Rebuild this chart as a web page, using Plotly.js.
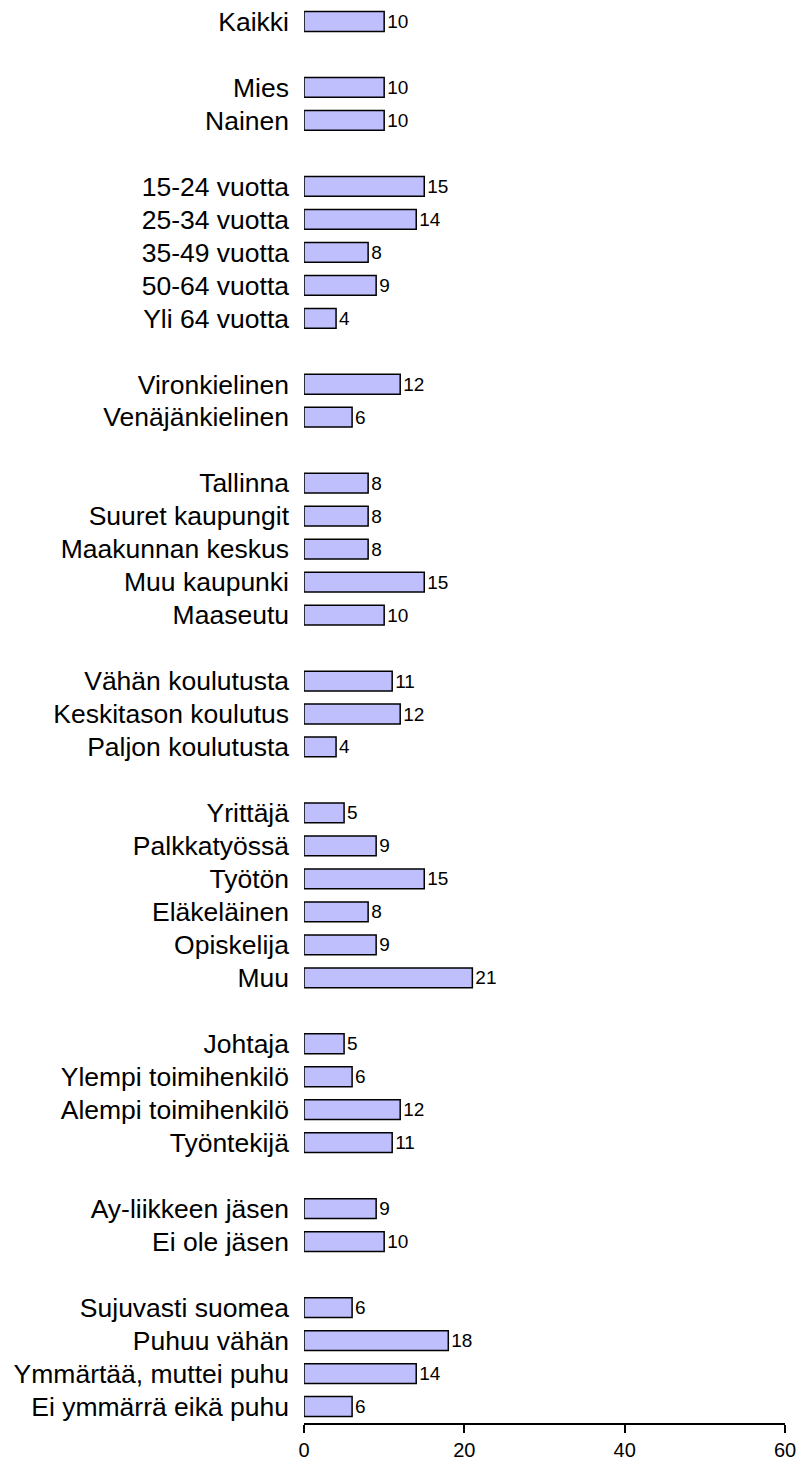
<!DOCTYPE html>
<html>
<head>
<meta charset="utf-8">
<script src="https://cdn.plot.ly/plotly-3.0.1.min.js"></script>
<style>html,body{margin:0;padding:0;background:#fff;}#chart{width:798px;height:1461px;}</style>
</head>
<body>
<div id="chart"></div>
<script>
const categories = [
  "Kaikki",
  "Mies", "Nainen",
  "15-24 vuotta", "25-34 vuotta", "35-49 vuotta", "50-64 vuotta", "Yli 64 vuotta",
  "Vironkielinen", "Venäjänkielinen",
  "Tallinna", "Suuret kaupungit", "Maakunnan keskus", "Muu kaupunki", "Maaseutu",
  "Vähän koulutusta", "Keskitason koulutus", "Paljon koulutusta",
  "Yrittäjä", "Palkkatyössä", "Työtön", "Eläkeläinen", "Opiskelija", "Muu",
  "Johtaja", "Ylempi toimihenkilö", "Alempi toimihenkilö", "Työntekijä",
  "Ay-liikkeen jäsen", "Ei ole jäsen",
  "Sujuvasti suomea", "Puhuu vähän", "Ymmärtää, muttei puhu", "Ei ymmärrä eikä puhu"
];
const values = [
  10,
  10, 10,
  15, 14, 8, 9, 4,
  12, 6,
  8, 8, 8, 15, 10,
  11, 12, 4,
  5, 9, 15, 8, 9, 21,
  5, 6, 12, 11,
  9, 10,
  6, 18, 14, 6
];
const groupSizes = [1, 2, 5, 2, 5, 3, 6, 4, 2, 4];
const xTicks = [0, 20, 40, 60];

// slot positions: one empty slot between groups
const positions = [];
let slot = 0;
groupSizes.forEach((n, g) => {
  for (let i = 0; i < n; i++) { positions.push(slot); slot++; }
  slot++;
});
const lastSlot = slot - 2;

const trace = {
  type: 'bar',
  orientation: 'h',
  x: values,
  y: positions,
  width: 0.6,
  marker: { color: '#bfbffd', line: { color: '#000', width: 1.5 } },
  text: values.map(String),
  textposition: 'outside',
  constraintext: 'none',
  cliponaxis: false,
  textfont: { family: 'Liberation Sans, Arial, sans-serif', size: 19, color: '#000' },
  hoverinfo: 'none'
};

const layout = {
  width: 798, height: 1461,
  margin: { l: 304, r: 13, t: 5, b: 38 },
  paper_bgcolor: '#fff', plot_bgcolor: '#fff',
  showlegend: false,
  font: { family: 'Liberation Sans, Arial, sans-serif', color: '#000' },
  xaxis: {
    range: [0, 60], autorange: false, tickvals: xTicks, ticktext: xTicks.map(String),
    showline: true, linecolor: '#000', linewidth: 2,
    ticks: 'outside', ticklen: 8, tickwidth: 2, tickcolor: '#000',
    showgrid: false, zeroline: false,
    tickfont: { size: 20, color: '#000' }
  },
  yaxis: {
    range: [lastSlot + 0.5, -0.5], autorange: false,
    tickvals: positions, ticktext: categories,
    showline: false, showgrid: false, zeroline: false,
    ticks: '', ticklabelstandoff: 14,
    tickfont: { size: 26.5, color: '#000' }
  }
};

Plotly.newPlot('chart', [trace], layout, { displayModeBar: false, staticPlot: true });
</script>
</body>
</html>
